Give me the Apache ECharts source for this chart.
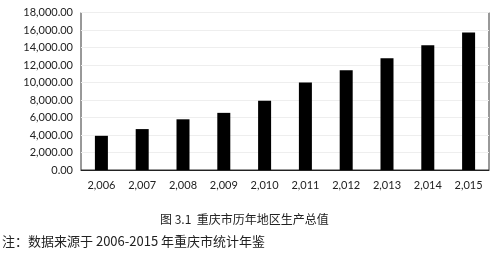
<!DOCTYPE html>
<html><head><meta charset="utf-8">
<script src="https://cdn.jsdelivr.net/npm/echarts@6/dist/echarts.min.js"></script>
<style>html,body{margin:0;padding:0;background:#fff}#c{width:494px;height:257px}</style>
</head><body><div id="c"></div>
<script>
const years = [2006, 2007, 2008, 2009, 2010, 2011, 2012, 2013, 2014, 2015];
const gdp = [3907, 4676, 5794, 6530, 7926, 10011, 11410, 12783, 14263, 15717];
const yTicks = [0, 2000, 4000, 6000, 8000, 10000, 12000, 14000, 16000, 18000];
const captionText = '图 3.1  重庆市历年地区生产总值';
const noteText = '注：数据来源于 2006-2015 年重庆市统计年鉴';

const fmt = v => Number(v).toLocaleString('en-US', {minimumFractionDigits: 2, maximumFractionDigits: 2});
const chart = echarts.init(document.getElementById('c'));
chart.setOption({
  animation: false,
  grid: {left: 81, right: 5, top: 12.5, bottom: 87, show: true, borderColor: '#333', borderWidth: 1},
  xAxis: {
    type: 'category',
    data: years.map(y => y.toLocaleString('en-US')),
    axisLine: {lineStyle: {color: '#222'}},
    axisTick: {show: false},
    axisLabel: {color: '#222', fontSize: 11, fontFamily: 'Lato', margin: 10, interval: 0}
  },
  yAxis: {
    type: 'value', min: yTicks[0], max: yTicks[yTicks.length - 1], interval: 2000,
    axisLine: {show: false}, axisTick: {show: false},
    splitLine: {lineStyle: {color: '#eeeeee'}},
    axisLabel: {color: '#222', fontSize: 11, fontFamily: 'Lato', margin: 8, formatter: fmt}
  },
  series: [{type: 'bar', data: gdp, barWidth: 13, itemStyle: {color: '#000'}}],
  graphic: [
    {type: 'text', left: 160, top: 213, style: {text: captionText, font: '12px "Noto Sans CJK SC"', fill: '#222'}},
    {type: 'text', left: 2, top: 235, style: {text: noteText, font: '13px "Noto Sans CJK SC"', fill: '#222'}}
  ]
});
</script></body></html>
